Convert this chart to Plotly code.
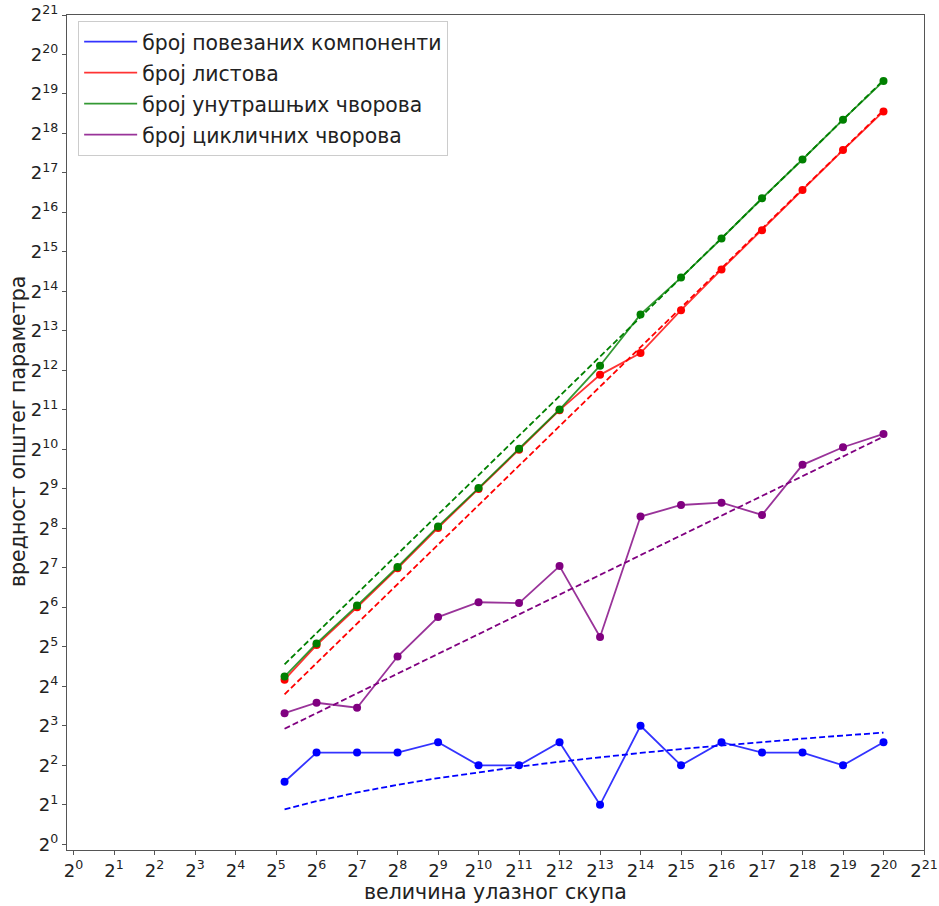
import math
import numpy as np
import plotly.graph_objects as go

# input sizes (first run is a little above 2^5, the rest are powers of two)
sizes = [37] + [2 ** k for k in range(6, 21)]

# measured graph parameters per input size
components = [3, 5, 5, 5, 6, 4, 4, 6, 2, 8, 4, 6, 5, 5, 4, 6]
leaves = [18, 33, 64, 127, 258, 510, 1020, 2040, 3790, 5560, 11800,
          24100, 48000, 97300, 196000, 386000]
internal = [19, 34, 66, 130, 265, 519, 1038, 2062, 4450, 10950, 20900,
            41500, 84100, 166000, 334000, 658000]
cyclic = [10, 12, 11, 27, 54, 70, 69, 132, 38, 315, 386, 402, 324, 781,
          1064, 1343]

# coefficients of the fitted asymptotic models
fit_components = 0.355   # c * log2(n)
fit_leaves = 0.376       # c * n
fit_internal = 0.637     # c * n
fit_cyclic = 1.25        # c * sqrt(n)

labels = ["број повезаних компоненти", "број листова",
          "број унутрашњих чворова", "број цикличних чворова"]
colors = ["#0000ff", "#ff0000", "#008000", "#800080"]
line_colors = ["rgba(0,0,255,0.8)", "rgba(255,0,0,0.8)",
               "rgba(0,128,0,0.8)", "rgba(128,0,128,0.8)"]

n = np.array(sizes, dtype=float)
series = [components, leaves, internal, cyclic]
fits = [fit_components * np.log2(n), fit_leaves * n,
        fit_internal * n, fit_cyclic * np.sqrt(n)]

fig = go.Figure()

# dashed model curves
for fy, col in zip(fits, colors):
    fig.add_trace(go.Scatter(x=n, y=fy, mode="lines", showlegend=False,
                             line=dict(color=col, width=1.8, dash="6px,3px"),
                             hoverinfo="skip"))

# measured series: line (labelled) plus markers
for i, (ys, lab, col, lcol) in enumerate(zip(series, labels, colors, line_colors)):
    fig.add_trace(go.Scatter(x=n, y=ys, mode="lines", name=lab,
                             legendgroup=f"g{i}",
                             line=dict(color=lcol, width=1.8)))
    fig.add_trace(go.Scatter(x=n, y=ys, mode="markers", showlegend=False,
                             marker=dict(color=col, size=8)))

tick_pows = list(range(0, 22))
tickvals = [2 ** k for k in tick_pows]
ticktext = [f"2<sup>{k}</sup>" for k in tick_pows]
l2 = math.log10(2)

axis_common = dict(type="log", tickmode="array", tickvals=tickvals,
                   ticktext=ticktext, showgrid=False, zeroline=False,
                   showline=True, linecolor="#555", linewidth=1.3,
                   mirror=True, ticks="outside", ticklen=4,
                   tickcolor="#555", tickwidth=1, automargin=False,
                   tickfont=dict(size=18, color="#222"))

fig.update_xaxes(**axis_common, range=[-0.163 * l2, 21 * l2])
fig.update_yaxes(**axis_common, range=[-0.144 * l2, 21 * l2])

# axis titles placed as paper annotations
plot_w, plot_h = 939 - 67 - 15, 906 - 15 - 56
fig.add_annotation(text="величина улазног скупа", xref="paper", yref="paper",
                   x=(496 - 67) / plot_w, y=-(892 - 850) / plot_h,
                   xanchor="center", yanchor="middle", showarrow=False,
                   font=dict(size=20.5, color="#222"))
fig.add_annotation(text="вредност општег параметра", xref="paper", yref="paper",
                   x=-(67 - 18) / plot_w, y=(850 - 432) / plot_h,
                   xanchor="center", yanchor="middle", showarrow=False,
                   textangle=-90, font=dict(size=20.5, color="#222"))

fig.update_layout(
    width=939, height=906,
    margin=dict(l=67, r=15, t=15, b=56),
    paper_bgcolor="white", plot_bgcolor="white",
    font=dict(family="DejaVu Sans", color="#222"),
    legend=dict(x=0.013, y=0.993, xanchor="left", yanchor="top",
                bgcolor="rgba(255,255,255,0.9)", bordercolor="#ccc",
                borderwidth=1, font=dict(size=20.4, color="#222"),
                itemwidth=53, tracegroupgap=1.5),
)

fig.write_html("out.html")
